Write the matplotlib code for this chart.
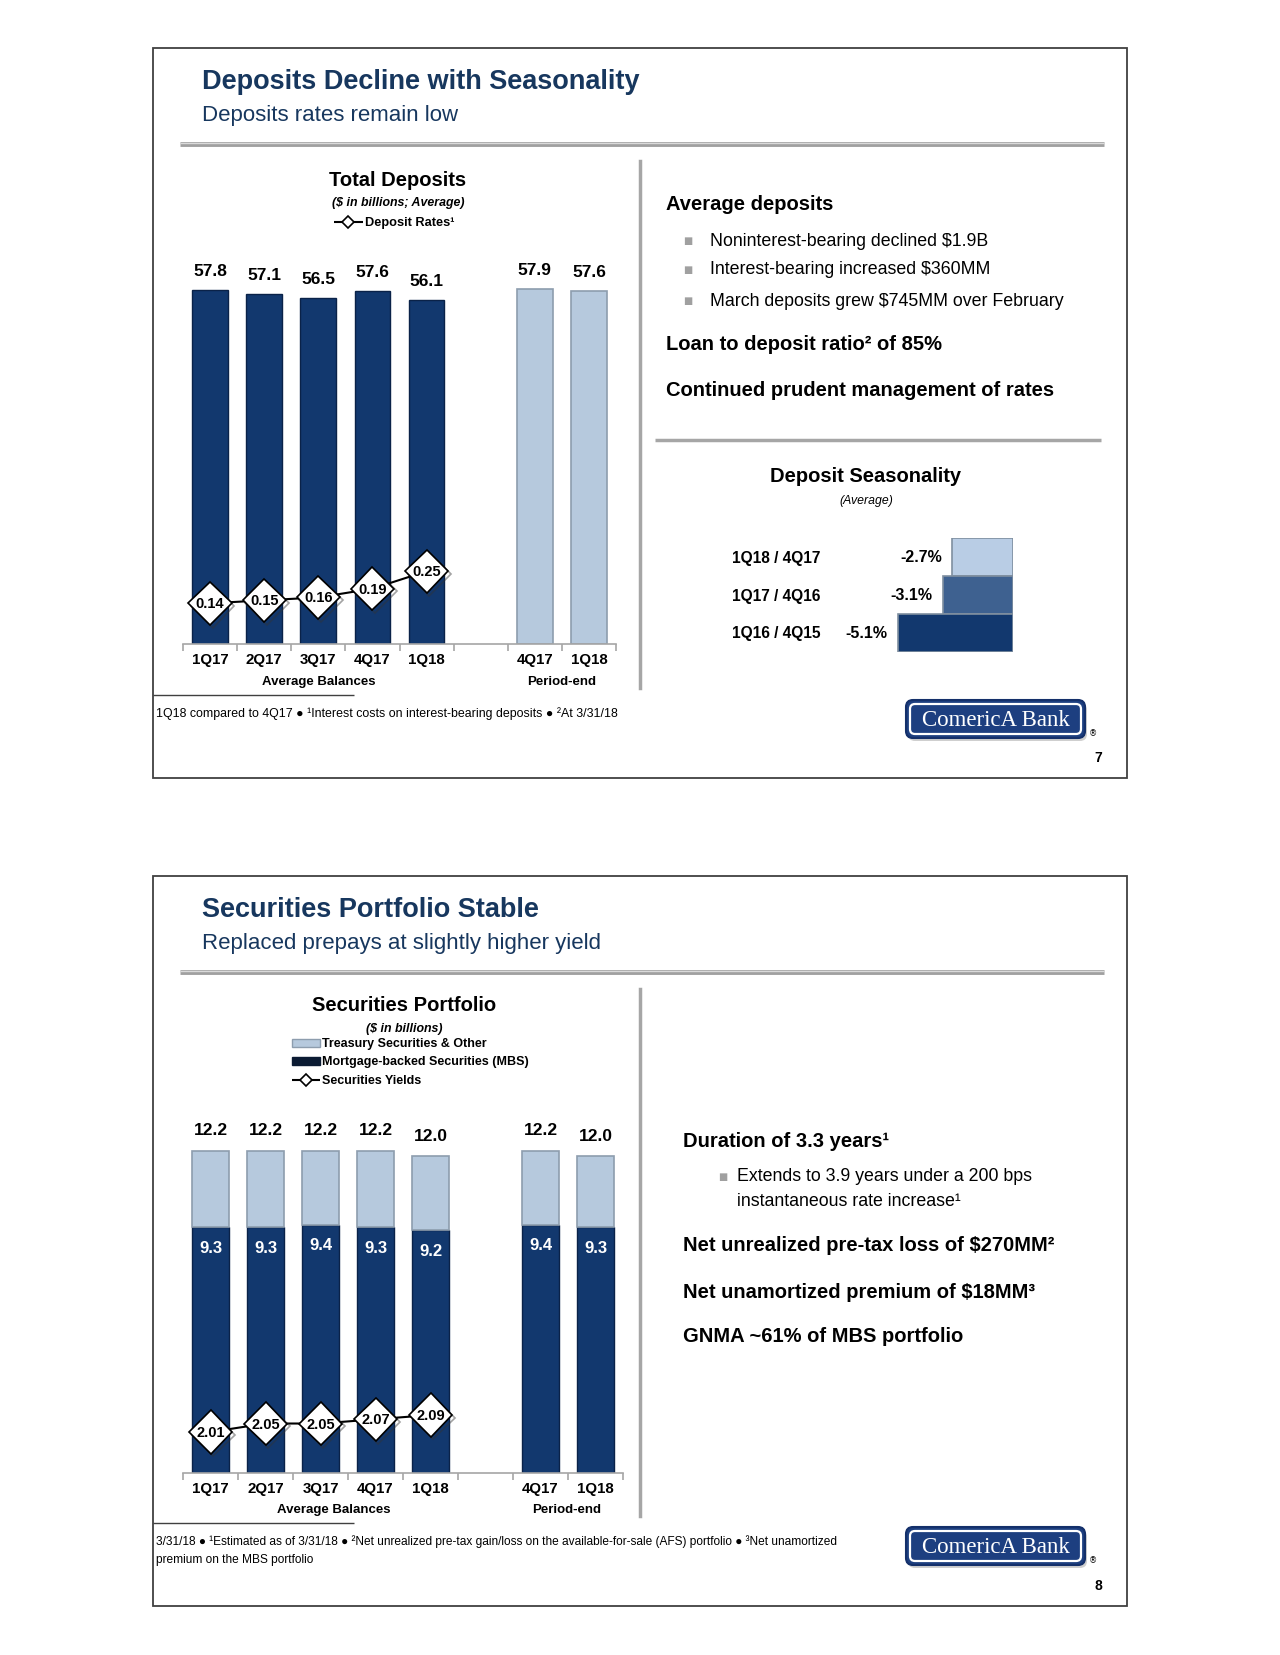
import numpy as np
import matplotlib.pyplot as plt
from matplotlib.patches import Rectangle, FancyBboxPatch
import matplotlib.patheffects as pe

plt.rcParams['font.family'] = ['Liberation Sans', 'DejaVu Sans']

W, H = 1280, 1656
NAVY = '#17375E'
DARK = '#12386E'
LIGHT = '#B6C9DD'

# ---- data ----
dep_quarters = ['1Q17', '2Q17', '3Q17', '4Q17', '1Q18']
dep_avg = [57.8, 57.1, 56.5, 57.6, 56.1]
dep_pe_quarters = ['4Q17', '1Q18']
dep_pe = [57.9, 57.6]
dep_rates = [0.14, 0.15, 0.16, 0.19, 0.25]

season_labels = ['1Q18 / 4Q17', '1Q17 / 4Q16', '1Q16 / 4Q15']
season_vals = [-2.7, -3.1, -5.1]
season_colors = ['#B9CDE5', '#3E6190', '#12386E']

sec_quarters = ['1Q17', '2Q17', '3Q17', '4Q17', '1Q18']
sec_total_avg = [12.2, 12.2, 12.2, 12.2, 12.0]
sec_mbs_avg = [9.3, 9.3, 9.4, 9.3, 9.2]
sec_pe_quarters = ['4Q17', '1Q18']
sec_total_pe = [12.2, 12.0]
sec_mbs_pe = [9.4, 9.3]
sec_yields = [2.01, 2.05, 2.05, 2.07, 2.09]

fig = plt.figure(figsize=(W / 100, H / 100), dpi=100)
cv = fig.add_axes([0, 0, 1, 1])
cv.set_xlim(0, W)
cv.set_ylim(H, 0)
cv.axis('off')


def px_axes(l, t, r, b):
    return fig.add_axes([l / W, 1 - b / H, (r - l) / W, (b - t) / H])


def hline(x0, x1, y, **kw):
    cv.plot([x0, x1], [y, y], solid_capstyle='butt', **kw)


def draw_logo(x, y):
    w, h = 179, 38
    cv.add_patch(FancyBboxPatch((x + 2, y + 3), w, h, boxstyle='round,pad=0,rounding_size=7',
                                fc='#B0B0B0', ec='none', alpha=0.6))
    cv.add_patch(FancyBboxPatch((x, y), w, h, boxstyle='round,pad=0,rounding_size=7',
                                fc='#1D3F80', ec='#14306A', lw=1.5))
    cv.add_patch(FancyBboxPatch((x + 4, y + 4), w - 8, h - 8, boxstyle='round,pad=0,rounding_size=5',
                                fc='none', ec='white', lw=1.6))
    cv.text(x + w / 2, y + h / 2 + 1, 'ComericA Bank', ha='center', va='center', color='white',
            fontsize=16.5, family=['Liberation Serif', 'DejaVu Serif'])
    cv.text(x + w + 8, y + 33, '®', ha='center', va='center', fontsize=6, family='DejaVu Sans')


def slide_frame(top, title, subtitle, page):
    cv.add_patch(Rectangle((153, top), 974, 730, fill=False, ec='#404040', lw=1.3))
    cv.text(202, top + 33, title, ha='left', va='center', fontsize=19.5, weight='bold', color=NAVY)
    cv.text(202, top + 67, subtitle, ha='left', va='center', fontsize=16, color=NAVY)
    hline(180, 1104, top + 96, color='#A0A0A0', lw=3.5)
    hline(180, 1104, top + 94.5, color='#DADADA', lw=1)
    cv.text(1098, top + 709, page, ha='center', va='center', fontsize=10, weight='bold')


def bar_axes_style(ax, ticks, labels):
    ax.set_xlim(-0.5, 7.5)
    for s in ['top', 'right', 'left']:
        ax.spines[s].set_visible(False)
    ax.spines['bottom'].set_color('#A6A6A6')
    ax.spines['bottom'].set_linewidth(1.2)
    ax.set_yticks([])
    ax.set_xticks(ticks)
    ax.set_xticklabels(labels, fontsize=10.8, weight='bold')
    ax.set_xticks(np.arange(-0.5, 8, 1), minor=True)
    ax.tick_params(axis='x', which='major', length=0, pad=6)
    ax.tick_params(axis='x', which='minor', length=5, color='#A6A6A6', width=1.2)
    ax.patch.set_alpha(0)


def diamond_line(ax, xs, vals, fmt):
    ax.plot(xs, vals, color='black', lw=1.5, zorder=3)
    ax.plot(xs, vals, ls='none', marker='D', ms=22, mfc='white', mec='black', mew=1.2, zorder=3,
            path_effects=[pe.SimpleLineShadow(offset=(2, -2), shadow_color='#333333', alpha=0.45),
                          pe.Normal()])
    for x, v in zip(xs, vals):
        ax.text(x, v, fmt.format(v), ha='center', va='center', fontsize=10.5, weight='bold', zorder=4)


# ================= slide 7 =================
slide_frame(49, 'Deposits Decline with Seasonality', 'Deposits rates remain low', '7')

cv.text(398, 181, 'Total Deposits', ha='center', va='center', fontsize=14.5, weight='bold')
cv.text(398, 203, '($ in billions; Average)', ha='center', va='center', fontsize=8.9, weight='bold', style='italic')
hline(334, 363, 223, color='black', lw=1.5)
cv.plot([348], [223], marker='D', ms=6, mfc='white', mec='black', mew=1.2)
cv.text(365, 223, 'Deposit Rates¹', ha='left', va='center', fontsize=9.2, weight='bold')

ax1 = px_axes(183, 250, 616, 645)
xa = np.arange(len(dep_avg))
xp = np.array([6, 7])
ax1.bar(xa, dep_avg, width=0.66, color=DARK, edgecolor='#0A2248', lw=1)
ax1.bar(xp, dep_pe, width=0.66, color=LIGHT, edgecolor='#8D9DAE', lw=1.2)
ax1.set_ylim(0, 64.5)
for x, v in zip(list(xa) + list(xp), dep_avg + dep_pe):
    ax1.text(x, v + 3.2, f'{v:.1f}', ha='center', va='center', fontsize=12.5, weight='bold')
bar_axes_style(ax1, list(xa) + list(xp), dep_quarters + dep_pe_quarters)
ax1b = ax1.twinx()
ax1b.set_ylim(0, 395 / 291)
ax1b.axis('off')
diamond_line(ax1b, xa, dep_rates, '{:.2f}')

cv.text(319, 682, 'Average Balances', ha='center', va='center', fontsize=9.5, weight='bold')
cv.text(562, 682, 'Period-end', ha='center', va='center', fontsize=9.5, weight='bold')

cv.plot([640, 640], [162, 689], color='#A6A6A6', lw=2.5)
hline(153, 354, 696, color='#404040', lw=1)
cv.text(156, 714, '1Q18 compared to 4Q17 ● ¹Interest costs on interest-bearing deposits ● ²At 3/31/18',
        ha='left', va='center', fontsize=8.9)

cv.text(666, 205, 'Average deposits', ha='left', va='center', fontsize=14.5, weight='bold')
for y, t in zip([241, 270, 301], ['Noninterest-bearing declined $1.9B', 'Interest-bearing increased $360MM',
                                  'March deposits grew $745MM over February']):
    cv.text(683, y, '■', ha='left', va='center', fontsize=7, color='#A0A0A0', family='DejaVu Sans')
    cv.text(710, y, t, ha='left', va='center', fontsize=12.8)
cv.text(666, 345, 'Loan to deposit ratio² of 85%', ha='left', va='center', fontsize=14.5, weight='bold')
cv.text(666, 391, 'Continued prudent management of rates', ha='left', va='center', fontsize=14.5, weight='bold')
hline(655, 1101, 441, color='#A6A6A6', lw=2.5)

cv.text(866, 477, 'Deposit Seasonality', ha='center', va='center', fontsize=14.5, weight='bold')
cv.text(866, 501, '(Average)', ha='center', va='center', fontsize=8.8, style='italic')
ax2 = px_axes(840, 539, 1013, 653)
ys = np.arange(len(season_vals))[::-1]
ax2.barh(ys, season_vals, height=1.0, color=season_colors, edgecolor='#7F8FA0', lw=1.2)
ax2.set_xlim(-7.65, 0)
ax2.set_ylim(-0.5, 2.5)
ax2.axis('off')
for y, v, lab in zip(ys, season_vals, season_labels):
    ax2.text(v - 0.45, y, f'{v:.1f}%', ha='right', va='center', fontsize=11.5, weight='bold')
    ax2.text(-0.624, y, lab, transform=ax2.get_yaxis_transform(), ha='left', va='center',
             fontsize=11.2, weight='bold')

draw_logo(906, 701)

# ================= slide 8 =================
slide_frame(877, 'Securities Portfolio Stable', 'Replaced prepays at slightly higher yield', '8')

cv.text(404, 1006, 'Securities Portfolio', ha='center', va='center', fontsize=14.5, weight='bold')
cv.text(404, 1029, '($ in billions)', ha='center', va='center', fontsize=8.9, weight='bold', style='italic')
cv.add_patch(Rectangle((292, 1040), 28, 8, fc=LIGHT, ec='#8D9DAE', lw=1))
cv.add_patch(Rectangle((292, 1058), 28, 8, fc='#0B1B33', ec='#0B1B33', lw=1))
hline(292, 320, 1081, color='black', lw=1.5)
cv.plot([306], [1081], marker='D', ms=6, mfc='white', mec='black', mew=1.2)
for y, t in zip([1044, 1062, 1081], ['Treasury Securities & Other', 'Mortgage-backed Securities (MBS)',
                                     'Securities Yields']):
    cv.text(322, y, t, ha='left', va='center', fontsize=9, weight='bold')

ax3 = px_axes(183, 1100, 623, 1474)
sx = list(np.arange(len(sec_mbs_avg))) + [6, 7]
mbs = sec_mbs_avg + sec_mbs_pe
tot = sec_total_avg + sec_total_pe
tre = [round(t - m, 1) for t, m in zip(tot, mbs)]
ax3.bar(sx, mbs, width=0.66, color=DARK, edgecolor='#0A2248', lw=1)
ax3.bar(sx, tre, bottom=mbs, width=0.66, color=LIGHT, edgecolor='#8D9DAE', lw=1.2)
ax3.set_ylim(0, 374 / 26.4)
for x, t, m in zip(sx, tot, mbs):
    ax3.text(x, t + 0.8, f'{t:.1f}', ha='center', va='center', fontsize=12.5, weight='bold')
    ax3.text(x, m - 0.76, f'{m:.1f}', ha='center', va='center', fontsize=12, weight='bold', color='white')
bar_axes_style(ax3, sx, sec_quarters + sec_pe_quarters)
ax3b = ax3.twinx()
ax3b.set_ylim(2.01 - 41 / 212, 2.01 + 333 / 212)
ax3b.axis('off')
diamond_line(ax3b, np.arange(len(sec_yields)), sec_yields, '{:.2f}')

cv.text(334, 1510, 'Average Balances', ha='center', va='center', fontsize=9.5, weight='bold')
cv.text(567, 1510, 'Period-end', ha='center', va='center', fontsize=9.5, weight='bold')

cv.plot([640, 640], [990, 1517], color='#A6A6A6', lw=2.5)
hline(153, 354, 1524, color='#404040', lw=1)
cv.text(156, 1542, '3/31/18 ● ¹Estimated as of 3/31/18 ● ²Net unrealized pre-tax gain/loss on the '
        'available-for-sale (AFS) portfolio ● ³Net unamortized', ha='left', va='center', fontsize=8.6)
cv.text(156, 1560, 'premium on the MBS portfolio', ha='left', va='center', fontsize=8.6)

cv.text(683, 1142, 'Duration of 3.3 years¹', ha='left', va='center', fontsize=14.5, weight='bold')
cv.text(718, 1177, '■', ha='left', va='center', fontsize=7, color='#A0A0A0', family='DejaVu Sans')
cv.text(737, 1177, 'Extends to 3.9 years under a 200 bps', ha='left', va='center', fontsize=12.8)
cv.text(737, 1202, 'instantaneous rate increase¹', ha='left', va='center', fontsize=12.8)
cv.text(683, 1246, 'Net unrealized pre-tax loss of $270MM²', ha='left', va='center', fontsize=14.5, weight='bold')
cv.text(683, 1293, 'Net unamortized premium of $18MM³', ha='left', va='center', fontsize=14.5, weight='bold')
cv.text(683, 1337, 'GNMA ~61% of MBS portfolio', ha='left', va='center', fontsize=14.5, weight='bold')

draw_logo(906, 1528)

fig.savefig('out.png', dpi=100)
